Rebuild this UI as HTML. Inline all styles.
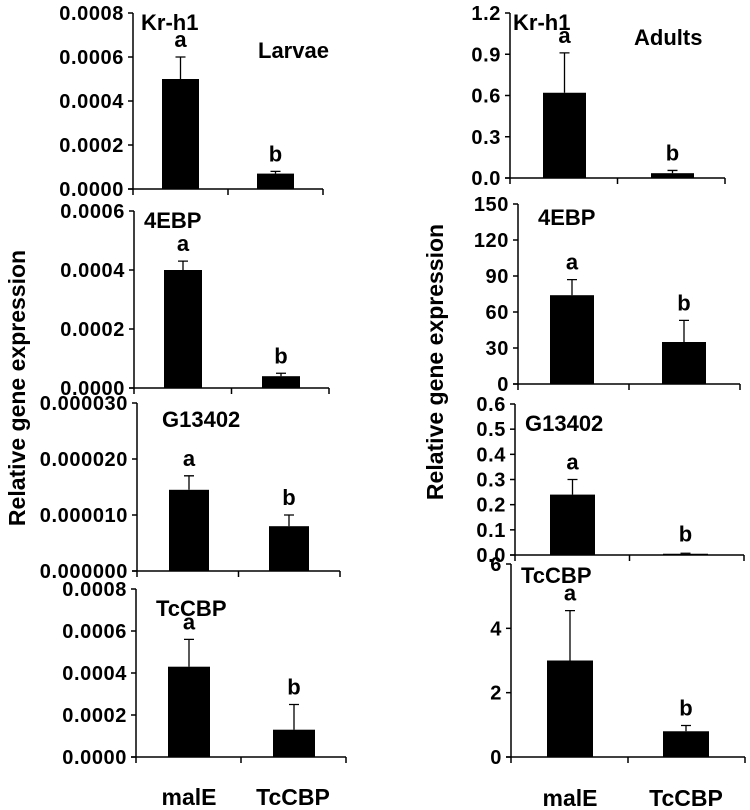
<!DOCTYPE html>
<html><head><meta charset="utf-8"><style>
html,body{margin:0;padding:0;background:#fff;}
svg{display:block;font-family:"Liberation Sans",sans-serif;font-weight:bold;}
</style></head><body>
<svg id="fig" width="750" height="810" viewBox="0 0 750 810" xmlns="http://www.w3.org/2000/svg">
<text transform="translate(25,388) rotate(-90)" text-anchor="middle" font-size="23">Relative gene expression</text>
<text transform="translate(443,362) rotate(-90)" text-anchor="middle" font-size="23">Relative gene expression</text>
<text x="258" y="58" font-size="22">Larvae</text>
<text x="634" y="45" font-size="22">Adults</text>
<text x="189" y="805" text-anchor="middle" font-size="23">malE</text>
<text x="293" y="805" text-anchor="middle" font-size="23">TcCBP</text>
<text x="570" y="806" text-anchor="middle" font-size="23">malE</text>
<text x="686" y="806" text-anchor="middle" font-size="23">TcCBP</text>
</svg>
<script>
const categories = ["malE", "TcCBP"];
const letters = ["a", "b"];
const genes = ["Kr-h1", "4EBP", "G13402", "TcCBP"];

const larvaeKrh1Values = [0.0005, 0.00007];
const larvaeKrh1Errors = [0.0001, 0.00001];
const larvaeKrh1Ticks = ["0.0000","0.0002","0.0004","0.0006","0.0008"];
const larvae4ebpValues = [0.0004, 0.00004];
const larvae4ebpErrors = [0.00003, 0.00001];
const larvae4ebpTicks = ["0.0000","0.0002","0.0004","0.0006"];
const larvaeG13402Values = [0.0000145, 0.000008];
const larvaeG13402Errors = [0.0000025, 0.000002];
const larvaeG13402Ticks = ["0.000000","0.000010","0.000020","0.000030"];
const larvaeTccbpValues = [0.00043, 0.00013];
const larvaeTccbpErrors = [0.00013, 0.00012];
const larvaeTccbpTicks = ["0.0000","0.0002","0.0004","0.0006","0.0008"];

const adultsKrh1Values = [0.62, 0.035];
const adultsKrh1Errors = [0.29, 0.02];
const adultsKrh1Ticks = ["0.0","0.3","0.6","0.9","1.2"];
const adults4ebpValues = [74, 35];
const adults4ebpErrors = [13, 18];
const adults4ebpTicks = ["0","30","60","90","120","150"];
const adultsG13402Values = [0.24, 0.005];
const adultsG13402Errors = [0.06, 0.002];
const adultsG13402Ticks = ["0.0","0.1","0.2","0.3","0.4","0.5","0.6"];
const adultsTccbpValues = [3.0, 0.8];
const adultsTccbpErrors = [1.55, 0.18];
const adultsTccbpTicks = ["0","2","4","6"];

const NS = "http://www.w3.org/2000/svg";
const svg = document.getElementById("fig");
function mk(tag, attrs){ const e=document.createElementNS(NS,tag); for(const k in attrs) e.setAttribute(k,attrs[k]); svg.appendChild(e); return e; }

function panel(id, gene, values, errors, ticks, g){
  const max = parseFloat(ticks[ticks.length-1]);
  const y = v => g.bottom - v/max*(g.bottom-g.top);
  const ax = mk("line",{x1:g.ax,y1:g.top,x2:g.ax,y2:g.bottom,stroke:"#000","stroke-width":1.5});
  
  
  const xa = mk("line",{x1:g.ax-5,y1:g.bottom,x2:g.right,y2:g.bottom,stroke:"#000","stroke-width":1.5});
  
  
  [g.ax, (g.ax+g.right)/2, g.right].forEach(xx=>{
    const t = mk("line",{x1:xx,y1:g.bottom,x2:xx,y2:g.bottom+6,stroke:"#000","stroke-width":1.5});
    
    
  });
  ticks.forEach(lbl=>{
    const v = parseFloat(lbl), yy = y(v);
    const t = mk("line",{x1:g.ax-5,y1:yy,x2:g.ax,y2:yy,stroke:"#000","stroke-width":1.5});
    
    
    const tx = mk("text",{x:g.ax-9,y:yy+7,"text-anchor":"end","font-size":20,"letter-spacing":"0.6"});
    tx.textContent = lbl;
    
    
  });
  const gl = mk("text",{x:g.ax+g.gx,y:g.top+g.gy,"font-size":22});
  gl.textContent = gene;
  
  
  categories.forEach((c,i)=>{
    const x0 = g.bars[i], w = g.bw, cx = x0+w/2;
    const top = y(values[i]), etop = y(values[i]+errors[i]);
    const r = mk("rect",{x:x0,y:top,width:w,height:g.bottom-top,fill:"#000"});
    
    
    const e = mk("path",{d:`M${cx},${top} V${etop} M${cx-5},${etop} H${cx+5}`,stroke:"#000","stroke-width":1.3,fill:"none"});
    
    
    const l = mk("text",{x:cx,y:Math.min(etop-10, top-12),"text-anchor":"middle","font-size":22});
    l.textContent = letters[i];
    
    
  });
}

panel("larvae-krh1", genes[0], larvaeKrh1Values, larvaeKrh1Errors, larvaeKrh1Ticks, {ax:133,right:323,top:13,bottom:189,bars:[162,257],bw:37,gx:8,gy:17});
panel("larvae-4ebp", genes[1], larvae4ebpValues, larvae4ebpErrors, larvae4ebpTicks, {ax:134,right:329,top:211,bottom:388,bars:[164,262],bw:38,gx:10,gy:17});
panel("larvae-g13402", genes[2], larvaeG13402Values, larvaeG13402Errors, larvaeG13402Ticks, {ax:137,right:340,top:403,bottom:571,bars:[169,269],bw:40,gx:25,gy:24});
panel("larvae-tccbp", genes[3], larvaeTccbpValues, larvaeTccbpErrors, larvaeTccbpTicks, {ax:136,right:346,top:589,bottom:757,bars:[168,273],bw:42,gx:20,gy:27});

panel("adults-krh1", genes[0], adultsKrh1Values, adultsKrh1Errors, adultsKrh1Ticks, {ax:510,right:725,top:13,bottom:178,bars:[543,651],bw:43,gx:3,gy:17});
panel("adults-4ebp", genes[1], adults4ebpValues, adults4ebpErrors, adults4ebpTicks, {ax:518,right:740,top:204,bottom:384,bars:[550,662],bw:44,gx:20,gy:21});
panel("adults-g13402", genes[2], adultsG13402Values, adultsG13402Errors, adultsG13402Ticks, {ax:515,right:744,top:404,bottom:555,bars:[550,663],bw:45,gx:10,gy:27});
panel("adults-tccbp", genes[3], adultsTccbpValues, adultsTccbpErrors, adultsTccbpTicks, {ax:511,right:745,top:564,bottom:757,bars:[547,663],bw:46,gx:10,gy:19});
</script>
</body></html>
